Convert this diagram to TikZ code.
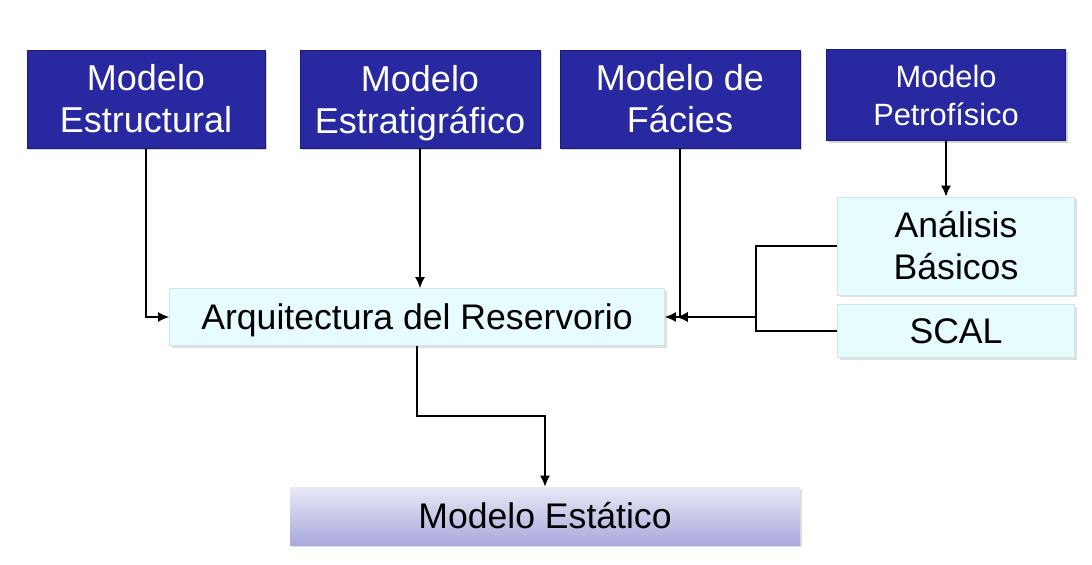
\documentclass[tikz,border=0pt]{standalone}
\usepackage{fontspec}
\setmainfont{Liberation Sans}
\usetikzlibrary{arrows.meta,shadows}
\definecolor{navy}{HTML}{2828A0}
\definecolor{navyedge}{HTML}{1A1A78}
\definecolor{icebox}{HTML}{E6FCFE}
\definecolor{iceedge}{HTML}{D2E6EA}
\definecolor{lavtop}{HTML}{E8E8F6}
\definecolor{lavbot}{HTML}{A9A9DD}
\newcommand{\nodepth}[1]{\raisebox{0pt}[\height][0pt]{#1}}
\begin{document}
\begin{tikzpicture}[x=0.5pt,y=-0.5pt,>={Latex[length=5.5pt,width=5pt]},
  modelbox/.style={draw=navyedge,fill=navy,text=white,align=center,minimum height=49pt,
    font=\fontsize{18}{21}\selectfont,drop shadow={opacity=0.35,shadow xshift=1pt,shadow yshift=-1pt}},
  icebox/.style={draw=iceedge,fill=icebox,align=center,inner sep=2pt,
    font=\fontsize{17.8}{21}\selectfont,drop shadow={opacity=0.25,shadow xshift=1pt,shadow yshift=-1pt}},
  link/.style={->,line width=0.7pt}]
\useasboundingbox[fill=white] (0,0) rectangle (1092,564);
\node[modelbox,minimum width=119pt] (est) at (146,99) {Modelo\\Estructural};
\node[modelbox,minimum width=120pt] (estr) at (420,99) {Modelo\\\nodepth{Estratigráfico}};
\node[modelbox,minimum width=120pt] (fac) at (680,99) {Modelo de\\Fácies};
\node[modelbox,minimum width=119.5pt,minimum height=45.5pt,font=\fontsize{15.4}{19}\selectfont] (pet) at (946,95) {Modelo\\Petrofísico};
\node[icebox,minimum width=118.5pt,minimum height=49pt] (ana) at (956,246) {Análisis\\Básicos};
\node[icebox,minimum width=118.5pt,minimum height=26.5pt] (scal) at (956,331) {SCAL};
\node[icebox,minimum width=247.5pt,minimum height=28.5pt] (arq) at (417,317) {\nodepth{Arquitectura del Reservorio}};
\node[icebox,draw=none,top color=lavtop,bottom color=lavbot,minimum width=255pt,minimum height=29pt] (estat) at (545,516) {Modelo Estático};
\draw[link] (est.south) |- (arq.west);
\draw[link] (estr.south) -- (estr.south |- arq.north);
\draw[link] (fac.south) |- (arq.east);
\draw[link] (pet.south) -- (pet.south |- ana.north);
\draw[link] (ana.west) -- ++(-81,0) |- ([xshift=6pt]arq.east);
\draw[link] (scal.west) -- ++(-81,0) |- ([xshift=6pt]arq.east);
\draw[link] (arq.south) -- ++(0,70) -| (estat.north);
\end{tikzpicture}
\end{document}
